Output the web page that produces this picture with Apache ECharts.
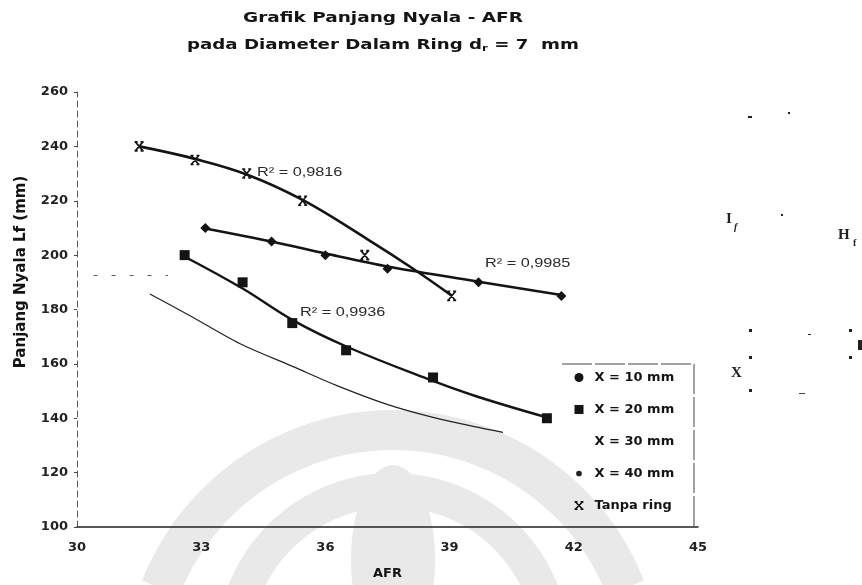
<!DOCTYPE html>
<html><head><meta charset="utf-8">
<script src="https://cdn.jsdelivr.net/npm/echarts@6/dist/echarts.min.js"></script>
<style>html,body{margin:0;padding:0;background:#fff}#c{width:862px;height:585px}</style>
</head><body><div id="c"></div>
<script>
// ---- data ----
const xTickValues = [30, 33, 36, 39, 42, 45];
const yTickValues = [100, 120, 140, 160, 180, 200, 220, 240, 260];

const seriesNames = ['X = 10 mm', 'X = 20 mm', 'X = 30 mm', 'X = 40 mm', 'Tanpa ring'];

// measured points
const afr10 = [33.1, 34.7, 36.0, 37.5, 39.7, 41.7];
const lf10  = [210, 205, 200, 195, 190, 185];

const afr20 = [32.6, 34.0, 35.2, 36.5, 38.6, 41.35];
const lf20  = [200, 190, 175, 165, 155, 140];

const afrTanpa = [31.5, 32.85, 34.1, 35.45, 36.95, 39.05];
const lfTanpa  = [240, 235, 230, 220, 200, 185];

// curves as drawn in the picture (trend lines)
const afr10Trend = [33.1, 34.7, 36.0, 37.5, 39.7, 41.7];
const lf10Trend  = [209.8, 205.0, 200.6, 195.8, 190.2, 185.3];

const afr20Trend = [32.58, 33.99, 35.22, 36.52, 38.55, 39.66, 41.35];
const lf20Trend  = [199.6, 187.8, 176.0, 166.3, 154.0, 148.0, 140.3];

const afrTanpaTrend = [31.5, 32.85, 34.13, 35.46, 37.0, 38.12, 39.06];
const lfTanpaTrend  = [240, 235.4, 229.5, 220.2, 206.0, 195.0, 185.0];

const afr30 = [30.4, 31.3, 32.2];
const lf30  = [192.5, 192.5, 192.5];

const afr40 = [31.76, 32.73, 33.94, 35.22, 36.28, 37.49, 38.6, 39.57, 40.29];
const lf40  = [185.7, 177.7, 167.4, 159.0, 152.0, 145.1, 140.3, 137.0, 134.8];

const titleLine1 = 'Grafik Panjang Nyala - AFR';
const titleLine2 = '{a|pada Diameter Dalam Ring d}{s|r}{a| = 7  mm}';
const r2Labels = ['R² = 0,9816', 'R² = 0,9985', 'R² = 0,9936'];

function pairs(xs, ys) { return xs.map((x, i) => [x, ys[i]]); }

const FONT = 'DejaVu Sans';
const xMarkPath = 'path://M0,0L10,10M10,0L0,10M-1,0L3,0M7,0L11,0M-1,10L3,10M7,10L11,10';
const INK = '#141414';
const WM = '#e9e9e9';

const chart = echarts.init(document.getElementById('c'), null, {renderer: 'canvas'});
const option = {
  backgroundColor: '#fff',
  animation: false,
  grid: {left: 77, right: 164, top: 92, bottom: 56, containLabel: false},
  xAxis: {
    type: 'value', min: xTickValues[0], max: xTickValues[xTickValues.length - 1], interval: 3,
    name: 'AFR', nameLocation: 'middle', nameGap: 40,
    nameTextStyle: {fontFamily: FONT, fontWeight: 'bold', fontSize: 13, color: INK},
    axisLine: {lineStyle: {color: '#222', width: 1.5}},
    axisTick: {show: false},
    axisLabel: {fontFamily: FONT, fontWeight: 'bold', fontSize: 13, color: '#222', margin: 14},
    splitLine: {show: false}
  },
  yAxis: {
    type: 'value', min: yTickValues[0], max: yTickValues[yTickValues.length - 1], interval: 20,
    axisLine: {show: true, lineStyle: {color: '#555', width: 1, type: [6, 4]}},
    axisTick: {show: true, length: 3, lineStyle: {color: '#444'}},
    axisLabel: {fontFamily: FONT, fontWeight: 'bold', fontSize: 13, color: '#222', margin: 9},
    splitLine: {show: false}
  },
  legend: {
    orient: 'vertical', left: 567, top: 366, itemWidth: 9, itemHeight: 9, itemGap: 19,
    textStyle: {fontFamily: FONT, fontWeight: 'bold', fontSize: 13, color: INK, padding: [0, 0, 0, 6]},
    data: [
      {name: seriesNames[0], icon: 'circle'},
      {name: seriesNames[1], icon: 'rect'},
      {name: seriesNames[2], icon: 'none'},
      {name: seriesNames[3], icon: 'circle', itemStyle: {borderColor: '#fff', borderWidth: 3.3}},
      {name: seriesNames[4], icon: xMarkPath, itemStyle: {color: 'none', borderColor: INK, borderWidth: 1.6}}
    ]
  },
  series: [
    // trend curves
    {name: 'trend10', type: 'line', data: pairs(afr10Trend, lf10Trend), smooth: 0.3, symbol: 'none',
     lineStyle: {color: INK, width: 2.6}, z: 2, silent: true},
    {name: 'trend20', type: 'line', data: pairs(afr20Trend, lf20Trend), smooth: 0.4, symbol: 'none',
     lineStyle: {color: INK, width: 2.4}, z: 2, silent: true},
    {name: 'trendTanpa', type: 'line', data: pairs(afrTanpaTrend, lfTanpaTrend), smooth: 0.4, symbol: 'none',
     lineStyle: {color: INK, width: 2.6}, z: 2, silent: true},
    // measured points
    {name: seriesNames[0], type: 'scatter', data: pairs(afr10, lf10),
     symbol: 'diamond', symbolSize: 10, itemStyle: {color: INK, opacity: 1}, z: 4},
    {name: seriesNames[1], type: 'scatter', data: pairs(afr20, lf20),
     symbol: 'rect', symbolSize: 10, itemStyle: {color: INK, opacity: 1}, z: 4},
    {name: seriesNames[2], type: 'line', data: pairs(afr30, lf30), smooth: false,
     symbol: 'none', itemStyle: {color: '#333'},
     lineStyle: {color: '#555', width: 1, type: [4, 14]}, z: 2},
    {name: seriesNames[3], type: 'line', data: pairs(afr40, lf40), smooth: 0.3,
     symbol: 'none', itemStyle: {color: '#222'},
     lineStyle: {color: '#222', width: 1.2}, z: 2},
    {name: seriesNames[4], type: 'scatter', data: pairs(afrTanpa, lfTanpa),
     symbol: xMarkPath, symbolSize: [9, 9],
     itemStyle: {color: 'none', borderColor: INK, borderWidth: 1.6, opacity: 1}, z: 5}
  ],
  graphic: [
    // faint watermark
    {type: 'arc', z: -10, shape: {cx: 393, cy: 680, r: 250, startAngle: Math.PI * 1.12, endAngle: Math.PI * 1.88}, style: {stroke: WM, lineWidth: 40, fill: null}, silent: true},
    {type: 'arc', z: -10, shape: {cx: 393, cy: 650, r: 160, startAngle: Math.PI * 1.1, endAngle: Math.PI * 1.9}, style: {stroke: WM, lineWidth: 34, fill: null}, silent: true},
    {type: 'ellipse', z: -10, shape: {cx: 393, cy: 560, rx: 42, ry: 95}, style: {fill: WM}, silent: true},
    // titles (scan is horizontally stretched)
    {type: 'text', x: 383, y: 18, scaleX: 1.32,
     style: {text: titleLine1, font: 'bold 14px "DejaVu Sans"', fill: INK, align: 'center', verticalAlign: 'middle'}},
    {type: 'text', x: 383, y: 45, scaleX: 1.3,
     style: {text: titleLine2, align: 'center', verticalAlign: 'middle',
       rich: {a: {fontFamily: FONT, fontWeight: 'bold', fontSize: 14, fill: INK, color: INK},
              s: {fontFamily: FONT, fontWeight: 'bold', fontSize: 9, fill: INK, color: INK, verticalAlign: 'bottom', padding: [8, 0, 0, 0]}}}},
    // legend box (top and right edges)
    {type: 'polyline', z: 5, shape: {points: [[562, 364], [694, 364], [694, 529]]}, style: {stroke: '#444', lineWidth: 1, fill: null, lineDash: [30, 3]}},
    // R² annotations
    {type: 'text', x: 257, y: 172, scaleX: 1.25, style: {text: r2Labels[0], font: '13px "Liberation Sans"', fill: '#2a2a2a', verticalAlign: 'middle'}},
    {type: 'text', x: 485, y: 263, scaleX: 1.25, style: {text: r2Labels[1], font: '13px "Liberation Sans"', fill: '#2a2a2a', verticalAlign: 'middle'}},
    {type: 'text', x: 300, y: 312, scaleX: 1.25, style: {text: r2Labels[2], font: '13px "Liberation Sans"', fill: '#2a2a2a', verticalAlign: 'middle'}},
    // y axis name
    {type: 'text', x: 21, y: 272, rotation: Math.PI / 2,
     style: {text: 'Panjang Nyala Lf (mm)', font: 'bold 15px "DejaVu Sans"', fill: INK, align: 'center', verticalAlign: 'middle'}},
    // stray marks at right side of the scan
    {type: 'text', left: 726, top: 212, style: {text: 'I', font: 'bold 15px "Liberation Serif"', fill: '#222'}},
    {type: 'text', left: 734, top: 222, style: {text: 'f', font: 'italic bold 10px "Liberation Serif"', fill: '#222'}},
    {type: 'text', left: 838, top: 228, style: {text: 'H', font: 'bold 15px "Liberation Serif"', fill: '#222'}},
    {type: 'text', left: 853, top: 238, style: {text: 'f', font: 'bold 10px "Liberation Serif"', fill: '#222'}},
    {type: 'text', left: 731, top: 366, style: {text: 'X', font: 'bold 15px "Liberation Serif"', fill: '#222'}},
    {type: 'rect', shape: {x: 748, y: 116, width: 4, height: 2}, style: {fill: '#222'}},
    {type: 'rect', shape: {x: 788, y: 112, width: 2, height: 2}, style: {fill: '#222'}},
    {type: 'rect', shape: {x: 781, y: 214, width: 2, height: 2}, style: {fill: '#222'}},
    {type: 'rect', shape: {x: 749, y: 329, width: 3, height: 3}, style: {fill: '#222'}},
    {type: 'rect', shape: {x: 808, y: 334, width: 3, height: 1}, style: {fill: '#222'}},
    {type: 'rect', shape: {x: 849, y: 329, width: 3, height: 3}, style: {fill: '#222'}},
    {type: 'rect', shape: {x: 749, y: 356, width: 3, height: 3}, style: {fill: '#222'}},
    {type: 'rect', shape: {x: 849, y: 356, width: 3, height: 3}, style: {fill: '#222'}},
    {type: 'rect', shape: {x: 858, y: 340, width: 4, height: 10}, style: {fill: '#222'}},
    {type: 'rect', shape: {x: 749, y: 389, width: 3, height: 3}, style: {fill: '#222'}},
    {type: 'rect', shape: {x: 799, y: 393, width: 6, height: 1}, style: {fill: '#444'}}
  ]
};
chart.setOption(option);
</script>
</body></html>
